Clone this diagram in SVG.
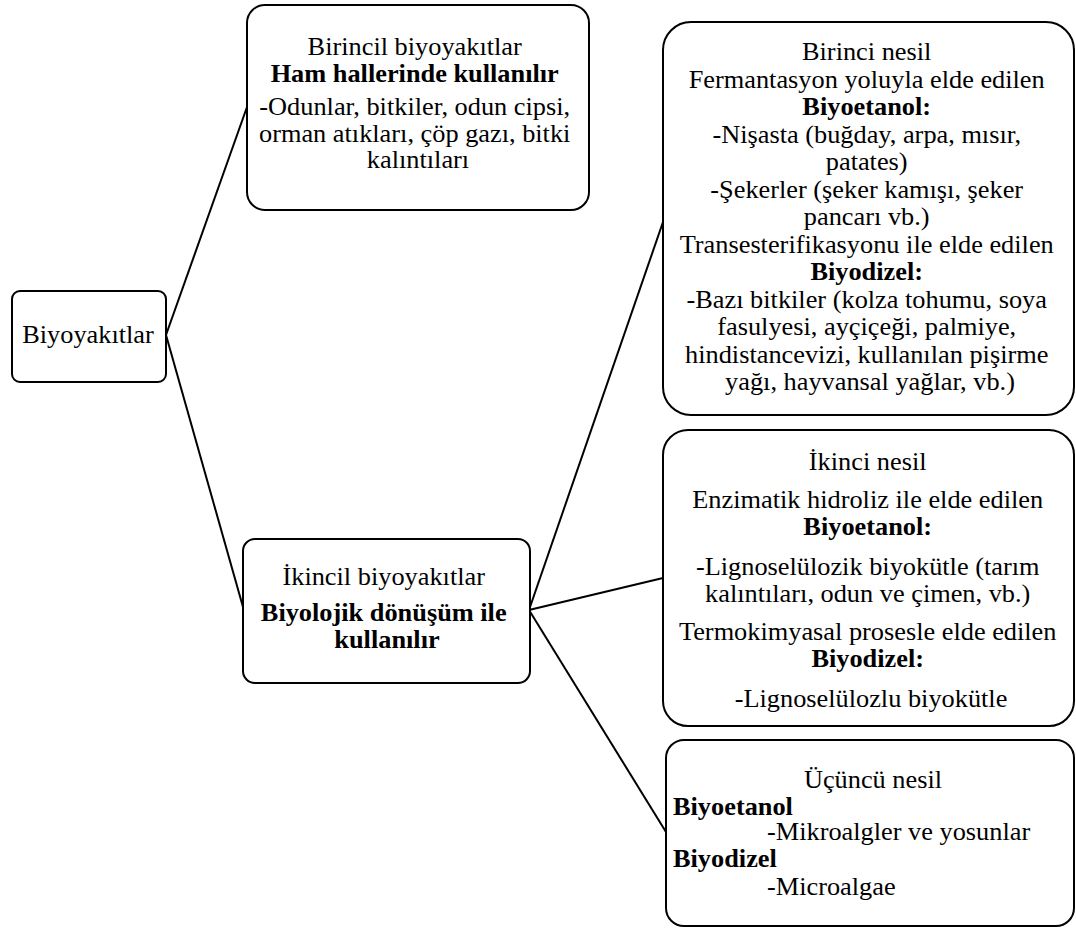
<svg xmlns="http://www.w3.org/2000/svg" width="1076" height="928" viewBox="0 0 1076 928">
  <style>
    .box { fill: #ffffff; stroke: #000000; stroke-width: 2; }
    .link { stroke: #000000; stroke-width: 2; fill: none; }
    .t { font-family: "Liberation Serif", "Times New Roman", serif; font-size: 24.5px; fill: #000000; }
    .c { text-anchor: middle; }
    .b { font-weight: bold; }
  </style>
  <rect width="1076" height="928" fill="#ffffff"/>

  <!-- connectors -->
  <g id="connectors">
    <line class="link" x1="166" y1="335" x2="247" y2="107"/>
    <line class="link" x1="166" y1="335" x2="243" y2="607"/>
    <line class="link" x1="529" y1="610" x2="663" y2="222"/>
    <line class="link" x1="529" y1="610" x2="663" y2="578"/>
    <line class="link" x1="529" y1="610" x2="666" y2="832"/>
  </g>

  <!-- root -->
  <g id="node-biyoyakitlar">
    <rect class="box" x="12" y="291" width="154" height="91" rx="8"/>
    <text class="t c" transform="translate(88 0) scale(1.075 1)"><tspan x="0" y="343">Biyoyakıtlar</tspan></text>
  </g>

  <!-- primary biofuels -->
  <g id="node-birincil">
    <rect class="box" x="247" y="5" width="342" height="205" rx="18"/>
    <text class="t c" transform="translate(418 0) scale(1.075 1)">
      <tspan x="0" y="55">Birincil biyoyakıtlar</tspan>
      <tspan x="0" y="82" class="b">Ham hallerinde kullanılır</tspan>
      <tspan x="0" y="115">-Odunlar, bitkiler, odun cipsi,</tspan>
      <tspan x="0" y="142">orman atıkları, çöp gazı, bitki</tspan>
      <tspan x="0" y="168">kalıntıları</tspan>
    </text>
  </g>

  <!-- secondary biofuels -->
  <g id="node-ikincil">
    <rect class="box" x="243" y="539" width="287" height="144" rx="12"/>
    <text class="t c" transform="translate(387 0) scale(1.075 1)">
      <tspan x="0" y="585">İkincil biyoyakıtlar</tspan>
      <tspan x="0" y="621" class="b">Biyolojik dönüşüm ile</tspan>
      <tspan x="0" y="648" class="b">kullanılır</tspan>
    </text>
  </g>

  <!-- first generation -->
  <g id="node-birinci-nesil">
    <rect class="box" x="663" y="22" width="411" height="393" rx="28"/>
    <text class="t c" transform="translate(870 0) scale(1.075 1)">
      <tspan x="0" y="60.5">Birinci nesil</tspan>
      <tspan x="0" y="88">Fermantasyon yoluyla elde edilen</tspan>
      <tspan x="0" y="115.5" class="b">Biyoetanol:</tspan>
      <tspan x="0" y="143">-Nişasta (buğday, arpa, mısır,</tspan>
      <tspan x="0" y="170.5">patates)</tspan>
      <tspan x="0" y="198">-Şekerler (şeker kamışı, şeker</tspan>
      <tspan x="0" y="225.5">pancarı vb.)</tspan>
      <tspan x="0" y="253">Transesterifikasyonu ile elde edilen</tspan>
      <tspan x="0" y="280.5" class="b">Biyodizel:</tspan>
      <tspan x="0" y="308">-Bazı bitkiler (kolza tohumu, soya</tspan>
      <tspan x="0" y="335.5">fasulyesi, ayçiçeği, palmiye,</tspan>
      <tspan x="0" y="363">hindistancevizi, kullanılan pişirme</tspan>
      <tspan x="0" y="390.5">yağı, hayvansal yağlar, vb.)</tspan>
    </text>
  </g>

  <!-- second generation -->
  <g id="node-ikinci-nesil">
    <rect class="box" x="663" y="430" width="411" height="296" rx="25"/>
    <text class="t c" transform="translate(871 0) scale(1.075 1)">
      <tspan x="0" y="470">İkinci nesil</tspan>
      <tspan x="0" y="508">Enzimatik hidroliz ile elde edilen</tspan>
      <tspan x="0" y="535" class="b">Biyoetanol:</tspan>
      <tspan x="0" y="575">-Lignoselülozik biyokütle (tarım</tspan>
      <tspan x="0" y="602">kalıntıları, odun ve çimen, vb.)</tspan>
      <tspan x="0" y="640">Termokimyasal prosesle elde edilen</tspan>
      <tspan x="0" y="667" class="b">Biyodizel:</tspan>
      <tspan x="0" y="707">-Lignoselülozlu biyokütle</tspan>
    </text>
  </g>

  <!-- third generation -->
  <g id="node-ucuncu-nesil">
    <rect class="box" x="666" y="740" width="408" height="186" rx="18"/>
    <text class="t c" transform="translate(873 0) scale(1.075 1)"><tspan x="0" y="788">Üçüncü nesil</tspan></text>
    <text class="t b" transform="translate(673 0) scale(1.075 1)"><tspan x="0" y="815">Biyoetanol</tspan></text>
    <text class="t" transform="translate(767 0) scale(1.075 1)"><tspan x="0" y="840">-Mikroalgler ve yosunlar</tspan></text>
    <text class="t b" transform="translate(673 0) scale(1.075 1)"><tspan x="0" y="867">Biyodizel</tspan></text>
    <text class="t" transform="translate(767 0) scale(1.075 1)"><tspan x="0" y="895">-Microalgae</tspan></text>
  </g>
</svg>
